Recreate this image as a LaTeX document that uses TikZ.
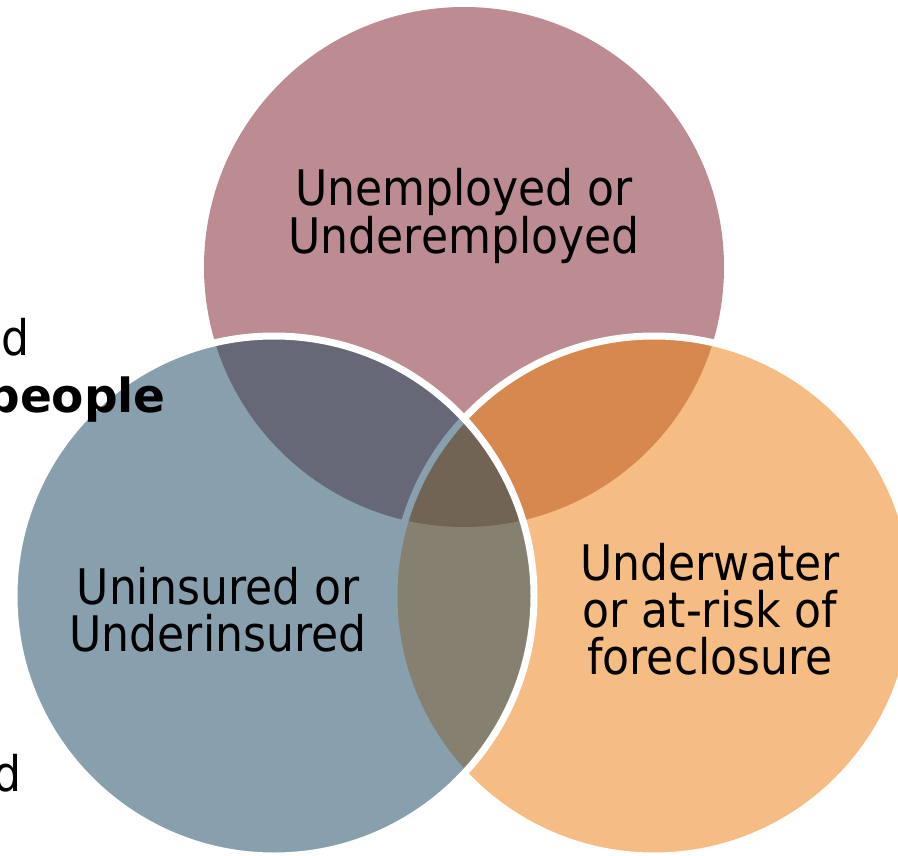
\documentclass[tikz,border=0pt]{standalone}
\usepackage{fontspec}
\setmainfont{DejaVu Sans Condensed}
\newfontfamily\widebold{DejaVu Sans}
\definecolor{jobpink}{HTML}{BC8C92}
\definecolor{carebl}{HTML}{88A0AE}
\definecolor{homeor}{HTML}{F5BC84}
\definecolor{jobhome}{HTML}{D6884E}
\definecolor{jobcare}{HTML}{666878}
\definecolor{carehome}{HTML}{868070}
\definecolor{allthree}{HTML}{726454}
\begin{document}
\begin{tikzpicture}[x=1pt, y=-1pt,
        ring/.style={draw=white, line width=7pt},
        label/.style={align=center, inner sep=0pt, font=\fontsize{49}{47}\selectfont},
        cut/.style={anchor=base east, inner sep=0pt, font=\fontsize{49}{47}\selectfont}
    ]
    \useasboundingbox (0,0) rectangle (898,856);
    \clip (0,0) rectangle (898,856);
    % Centres
    \coordinate (T) at (464,267);
    \coordinate (L) at (274,596);
    \coordinate (R) at (654,596);
    % Circles
    \fill[jobpink] (T) circle (260pt);
    \fill[homeor] (R) circle (260pt);
    \begin{scope}
        \clip (T) circle (260pt);
        \fill[jobhome] (R) circle (260pt);
    \end{scope}
    \draw[ring] (R) circle (260pt);
    \fill[carebl] (L) circle (260pt);
    \begin{scope}
        \clip (L) circle (260pt);
        \fill[jobcare] (T) circle (260pt);
        \fill[carehome] (R) circle (260pt);
        \begin{scope}
            \clip (T) circle (260pt);
            \fill[allthree] (R) circle (260pt);
        \end{scope}
        \draw[carebl, line width=7pt] (R) circle (260pt);
    \end{scope}
    \draw[ring] (L) circle (260pt);
    % Labels
    \node[label] (jobs) at (464,216) {Unemployed or\\Underemployed};
    \node[label] (care) at (218,610) {Uninsured or\\Underinsured};
    \node[label] (home) at (710,609) {Underwater\\or at-risk of\\foreclosure};
    % Cut-off slide text
    \node[cut] (cutA) at (30,355) {d};
    \node[cut, font=\fontsize{47}{47}\widebold\bfseries] (cutB) at (166,412) {people};
    \node[cut] (cutC) at (22,791) {d};
\end{tikzpicture}
\end{document}
